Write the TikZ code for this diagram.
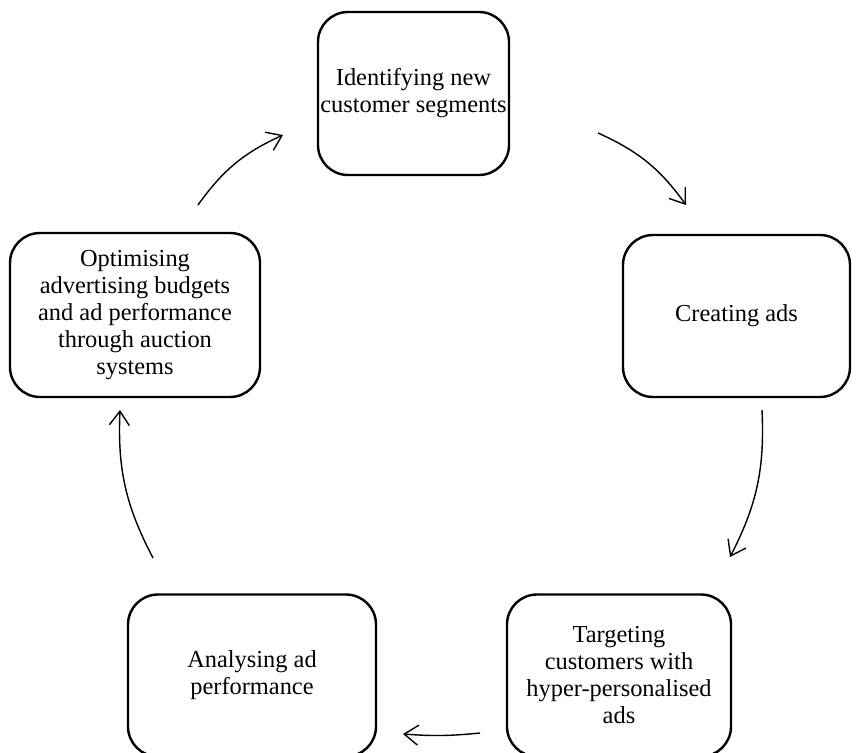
\documentclass[tikz,border=0pt]{standalone}
\usepackage{fontspec}
\setmainfont{Liberation Serif}
\usetikzlibrary{arrows.meta}

\begin{document}
\begin{tikzpicture}[x=0.5pt, y=-0.5pt,
    stage/.style={draw, line width=1.2pt, rounded corners=15pt, align=center, inner sep=0pt,
      font=\fontsize{12.2}{13.5}\selectfont},
    cyc/.style={-{Straight Barb[length=7pt,width=10pt]}, line width=0.7pt, bend left=15}]
  \useasboundingbox (0,0) rectangle (861,753);
  % stages
  \node [stage, minimum width=95.5pt, minimum height=81.5pt] (ident) at (413.5,93.5) {Identifying new\\customer segments};
  \node [stage, minimum width=113.5pt, minimum height=81pt] (create) at (736.5,316) {Creating ads};
  \node [stage, minimum width=112pt, minimum height=81pt] (target) at (619,675.5) {Targeting\\customers with\\hyper-personalised\\ads};
  \node [stage, minimum width=124pt, minimum height=81pt] (analyse) at (252,675.5) {Analysing ad\\performance};
  \node [stage, minimum width=125pt, minimum height=82pt] (optim) at (135,315) {Optimising\\advertising budgets\\and ad performance\\through auction\\systems};
  % free ends of the cycle arrows
  \coordinate (optim-out) at (198,205);
  \coordinate (ident-in) at (283,135);
  \coordinate (ident-out) at (598,133);
  \coordinate (create-in) at (686,205);
  \coordinate (create-out) at (762,410);
  \coordinate (target-in) at (730,557);
  \coordinate (target-out) at (480,733);
  \coordinate (analyse-in) at (403,734);
  \coordinate (analyse-out) at (153,558);
  \coordinate (optim-in) at (120,410);
  \draw [cyc] (optim-out) to (ident-in);
  \draw [cyc] (ident-out) to (create-in);
  \draw [cyc] (create-out) to (target-in);
  \draw [cyc, bend left=5] (target-out) to (analyse-in);
  \draw [cyc] (analyse-out) to (optim-in);
\end{tikzpicture}
\end{document}
